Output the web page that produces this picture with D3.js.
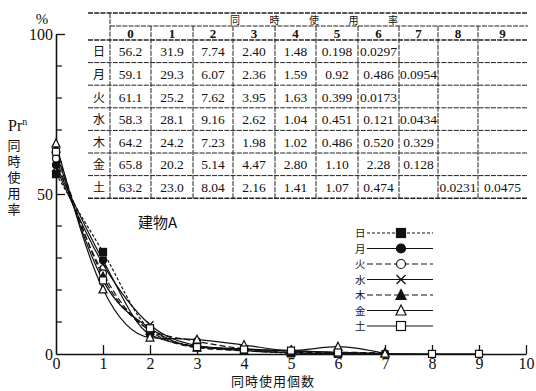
<!DOCTYPE html>
<html>
<head>
<meta charset="utf-8">
<script src="https://cdn.jsdelivr.net/npm/d3@7"></script>
<style>
  html, body { margin: 0; padding: 0; background: #fff; }
  svg { display: block; }
  text { font-family: "Liberation Serif", "DejaVu Serif", "Noto Sans CJK JP", serif; fill: #111; }
  .cjk { font-family: "Noto Sans CJK JP", sans-serif; }
</style>
</head>
<body>
<svg id="chart" width="536" height="391"></svg>
<script>
// Number of simultaneously used units (x) and weekday series
const counts = [0, 1, 2, 3, 4, 5, 6, 7, 8, 9];
const days = ["日", "月", "火", "水", "木", "金", "土"];

// Simultaneous usage rate (%) per weekday, as listed in the table
const sun = ["56.2", "31.9", "7.74", "2.40", "1.48", "0.198", "0.0297", "", "", ""];
const mon = ["59.1", "29.3", "6.07", "2.36", "1.59", "0.92", "0.486", "0.0954", "", ""];
const tue = ["61.1", "25.2", "7.62", "3.95", "1.63", "0.399", "0.0173", "", "", ""];
const wed = ["58.3", "28.1", "9.16", "2.62", "1.04", "0.451", "0.121", "0.0434", "", ""];
const thu = ["64.2", "24.2", "7.23", "1.98", "1.02", "0.486", "0.520", "0.329", "", ""];
const fri = ["65.8", "20.2", "5.14", "4.47", "2.80", "1.10", "2.28", "0.128", "", ""];
const sat = ["63.2", "23.0", "8.04", "2.16", "1.41", "1.07", "0.474", "", "0.0231", "0.0475"];

const xTicks = [0, 1, 2, 3, 4, 5, 6, 7, 8, 9, 10];
const yTickLabels = [0, 50, 100];
const yMinorTicks = [10, 20, 30, 40, 60, 70, 80, 90];

const rows = [sun, mon, tue, wed, thu, fri, sat];

// Line dash and marker style for each weekday
const styles = [
  { dash: "3,2", marker: "squareFilled" },
  { dash: null, marker: "circleFilled" },
  { dash: "6,3", marker: "circleOpen" },
  { dash: null, marker: "cross" },
  { dash: "6,3", marker: "triangleFilled" },
  { dash: null, marker: "triangleOpen" },
  { dash: null, marker: "squareOpen" }
];

const svg = d3.select("#chart");
svg.append("rect").attr("width", 536).attr("height", 391).attr("fill", "#fff");

const x = d3.scaleLinear().domain([0, 10]).range([56, 526]);
const y = d3.scaleLinear().domain([0, 100]).range([354, 34]);

const ink = "#111";

// ---- axes ----
const gx = svg.append("g").attr("transform", `translate(0,${y(0)})`);
gx.call(d3.axisBottom(x).tickValues(xTicks).tickSize(0).tickPadding(4).tickFormat(d3.format("d")));
gx.select(".domain").attr("stroke", ink).attr("stroke-width", 1.6);
gx.selectAll(".tick text").attr("font-size", 16).attr("fill", ink);
gx.selectAll(".tick").filter(d => d > 0).append("line")
  .attr("y1", 0).attr("y2", -9).attr("stroke", ink).attr("stroke-width", 1.3);

const gy = svg.append("g").attr("transform", `translate(${x(0)},0)`);
gy.call(d3.axisLeft(y).tickValues(yTickLabels).tickSize(0).tickPadding(3).tickFormat(d3.format("d")));
gy.select(".domain").attr("stroke", ink).attr("stroke-width", 1.6);
gy.selectAll(".tick text").attr("font-size", 16).attr("fill", ink);
gy.selectAll(".tick").filter(d => d > 0).append("line")
  .attr("x1", 0).attr("x2", 9).attr("stroke", ink).attr("stroke-width", 1.3);
gy.selectAll(".minor").data(yMinorTicks).join("line")
  .attr("x1", 0).attr("x2", 6).attr("y1", d => y(d)).attr("y2", d => y(d))
  .attr("stroke", ink).attr("stroke-width", 1.2);

svg.append("text").attr("x", 42).attr("y", 24).attr("text-anchor", "middle")
  .attr("font-size", 15).text("%");

// y-axis title: Pr^n over a vertical 同時使用率
const pr = svg.append("text").attr("x", 8).attr("y", 131).attr("font-size", 16);
pr.append("tspan").text("Pr");
pr.append("tspan").attr("dy", -6).attr("font-size", 10).text("n");
svg.append("text").attr("class", "cjk")
  .attr("x", 14).attr("y", 139)
  .attr("writing-mode", "vertical-rl")
  .style("text-orientation", "upright")
  .attr("font-size", 13).attr("letter-spacing", 3)
  .text("同時使用率");

svg.append("text").attr("class", "cjk").attr("x", 273).attr("y", 386)
  .attr("text-anchor", "middle").attr("font-size", 13).attr("letter-spacing", 1)
  .text("同時使用個数");

svg.append("text").attr("class", "cjk").attr("x", 138).attr("y", 228)
  .attr("font-size", 15).text("建物A");

// ---- markers ----
function drawMarker(g, type, cx, cy, s) {
  const h = s / 2;
  if (type === "squareFilled" || type === "squareOpen") {
    g.append("rect").attr("x", cx - h).attr("y", cy - h).attr("width", s).attr("height", s)
      .attr("fill", type === "squareFilled" ? ink : "#fff").attr("stroke", ink).attr("stroke-width", 1.2);
  } else if (type === "circleFilled" || type === "circleOpen") {
    g.append("circle").attr("cx", cx).attr("cy", cy).attr("r", h)
      .attr("fill", type === "circleFilled" ? ink : "#fff").attr("stroke", ink).attr("stroke-width", 1.2);
  } else if (type === "cross") {
    g.append("path").attr("d", `M${cx - h},${cy - h}L${cx + h},${cy + h}M${cx - h},${cy + h}L${cx + h},${cy - h}`)
      .attr("stroke", ink).attr("stroke-width", 1.3).attr("fill", "none");
  } else {
    g.append("path").attr("d", `M${cx},${cy - h - 1}L${cx + h + 0.5},${cy + h}L${cx - h - 0.5},${cy + h}Z`)
      .attr("fill", type === "triangleFilled" ? ink : "#fff").attr("stroke", ink).attr("stroke-width", 1.2);
  }
}

// ---- curves ----
const line = d3.line().curve(d3.curveMonotoneX).x(d => x(d.n)).y(d => y(d.v));
const plot = svg.append("g");
rows.forEach((r, i) => {
  const pts = counts.map((n, k) => ({ n, v: r[k] === "" ? null : +r[k] })).filter(d => d.v !== null);
  plot.append("path").datum(pts).attr("d", line)
    .attr("fill", "none").attr("stroke", ink).attr("stroke-width", 1.2)
    .attr("stroke-dasharray", styles[i].dash);
});
rows.forEach((r, i) => {
  const g = plot.append("g");
  counts.forEach((n, k) => {
    if (r[k] !== "") drawMarker(g, styles[i].marker, x(n), y(+r[k]), 7);
  });
});

// ---- legend ----
const lg = svg.append("g");
days.forEach((d, i) => {
  const ly = 233 + i * 15.5;
  lg.append("text").attr("class", "cjk").attr("x", 355).attr("y", ly + 4)
    .attr("font-size", 10.5).text(d);
  lg.append("line").attr("x1", 367).attr("x2", 433).attr("y1", ly).attr("y2", ly)
    .attr("stroke", ink).attr("stroke-width", 1.2).attr("stroke-dasharray", styles[i].dash);
  drawMarker(lg, styles[i].marker, 401, ly, 9);
});

// ---- table ----
const tbl = svg.append("g");
tbl.append("rect").attr("x", 88).attr("y", 13).attr("width", 440).attr("height", 186).attr("fill", "#fff");
const colEdges = [110, 151, 193, 233, 275, 316, 358, 399, 438, 478, 527];
const tLeft = 88, tTop = 13, hdrBottom = 26, colHdrBottom = 40, rowH = 22.6;
const tBottom = colHdrBottom + rowH * days.length;
const gridLine = (x1, y1, x2, y2, w) => tbl.append("line")
  .attr("x1", x1).attr("y1", y1).attr("x2", x2).attr("y2", y2)
  .attr("stroke", "#222").attr("stroke-width", w || 1).attr("stroke-dasharray", "5,1.2");

gridLine(tLeft, tTop, 528, tTop, 1.3);
gridLine(colEdges[0], hdrBottom, 528, hdrBottom);
gridLine(tLeft, colHdrBottom, 528, colHdrBottom, 1.6);
days.forEach((d, i) => gridLine(tLeft, colHdrBottom + rowH * (i + 1), 528, colHdrBottom + rowH * (i + 1), i === days.length - 1 ? 1.4 : 1));
gridLine(colEdges[0], tTop, colEdges[0], tBottom);
colEdges.slice(1, -1).forEach(cx => gridLine(cx, hdrBottom, cx, tBottom));

["同", "時", "使", "用", "率"].forEach((c, i) => {
  tbl.append("text").attr("class", "cjk").attr("x", 235 + i * 39.5).attr("y", 24)
    .attr("text-anchor", "middle").attr("font-size", 10).text(c);
});
counts.forEach((n, k) => {
  tbl.append("text").attr("x", (colEdges[k] + colEdges[k + 1]) / 2).attr("y", 38)
    .attr("text-anchor", "middle").attr("font-size", 13).attr("font-weight", "bold").text(n);
});
rows.forEach((r, i) => {
  const cy = colHdrBottom + rowH * i + rowH / 2 + 5;
  tbl.append("text").attr("class", "cjk").attr("x", 99).attr("y", cy)
    .attr("text-anchor", "middle").attr("font-size", 12).text(days[i]);
  r.forEach((v, k) => {
    if (v === "") return;
    tbl.append("text").attr("x", (colEdges[k] + colEdges[k + 1]) / 2).attr("y", cy)
      .attr("text-anchor", "middle").attr("font-size", 13.5).text(v);
  });
});
</script>
</body>
</html>
